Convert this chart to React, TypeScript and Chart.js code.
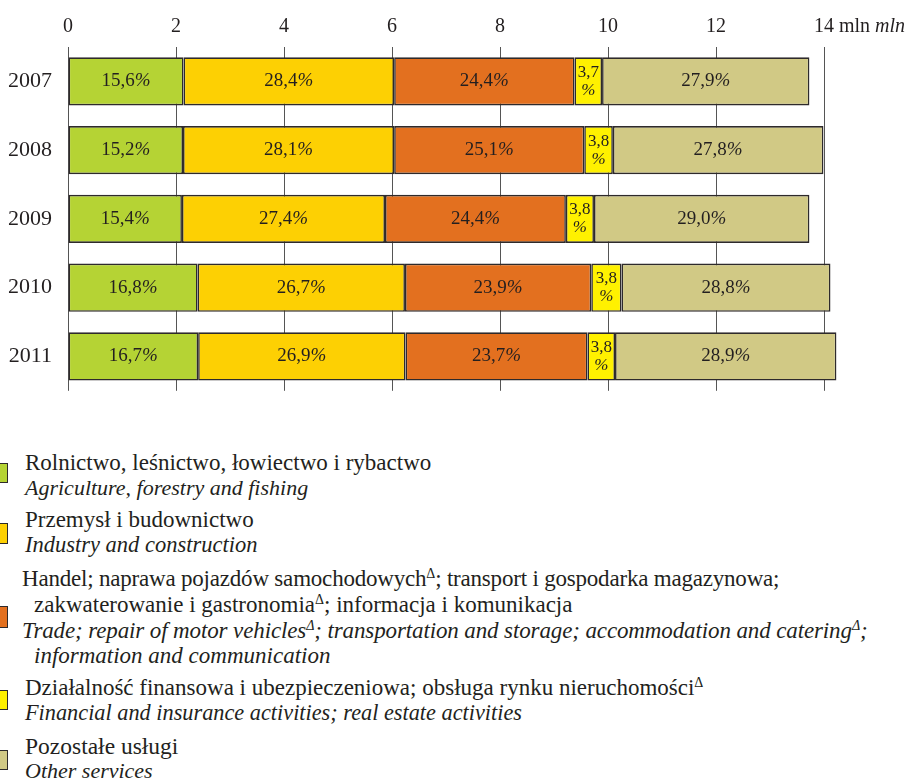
import React, { useEffect, useRef } from "react";
import { Chart, registerables } from "chart.js";

Chart.register(...registerables);

const years = ["2007", "2008", "2009", "2010", "2011"];
const agriculture = [2.14, 2.13, 2.11, 2.4, 2.41];
const industry = [3.9, 3.91, 3.76, 3.84, 3.84];
const trade = [3.34, 3.52, 3.35, 3.45, 3.37];
const finance = [0.51, 0.53, 0.52, 0.56, 0.51];
const other = [3.84, 3.9, 3.99, 3.87, 4.1];

const agriculturePct = ["15,6", "15,2", "15,4", "16,8", "16,7"];
const industryPct = ["28,4", "28,1", "27,4", "26,7", "26,9"];
const tradePct = ["24,4", "25,1", "24,4", "23,9", "23,7"];
const financePct = ["3,7", "3,8", "3,8", "3,8", "3,8"];
const otherPct = ["27,9", "27,8", "29,0", "28,8", "28,9"];

const xTicks = [0, 2, 4, 6, 8, 10, 12, 14];
const xMin = 0;
const xMax = 14.25;
const unitNormal = " mln";
const unitItalic = "mln";

const SERIF = "'Liberation Serif', 'Times New Roman', serif";
const TEXT = "#231f20";

const seriesColors = ["#b5d334", "#fdd003", "#e3701f", "#fff100", "#d1c985"];
const seriesNames = ["Rolnictwo", "Przemysł", "Handel", "Działalność finansowa", "Pozostałe usługi"];

const labelPlugin = {
  id: "segLabels",
  afterDatasetsDraw(chart: any) {
    const ctx = chart.ctx;
    const pcts = [agriculturePct, industryPct, tradePct, financePct, otherPct];
    ctx.save();
    ctx.fillStyle = TEXT;
    ctx.textBaseline = "middle";
    chart.data.datasets.forEach((_: any, i: number) => {
      const meta = chart.getDatasetMeta(i);
      meta.data.forEach((bar: any, j: number) => {
        const p = bar.getProps(["x", "y", "base"], true);
        const cx = (p.x + p.base) / 2;
        const cy = p.y;
        const num = pcts[i][j];
        if (i === 3) {
          ctx.font = `17px ${SERIF}`;
          ctx.textAlign = "center";
          ctx.fillText(num, cx, cy - 9);
          ctx.font = `italic 17px ${SERIF}`;
          ctx.fillText("%", cx, cy + 9);
        } else {
          ctx.font = `19px ${SERIF}`;
          const w1 = ctx.measureText(num).width;
          ctx.font = `italic 19px ${SERIF}`;
          const w2 = ctx.measureText("%").width;
          const start = cx - (w1 + w2) / 2;
          ctx.textAlign = "left";
          ctx.font = `19px ${SERIF}`;
          ctx.fillText(num, start, cy);
          ctx.font = `italic 19px ${SERIF}`;
          ctx.fillText("%", start + w1, cy);
        }
      });
    });
    ctx.restore();
  },
  afterDraw(chart: any) {
    const ctx = chart.ctx;
    const xs = chart.scales.x;
    const last = xTicks[xTicks.length - 1];
    const px = xs.getPixelForValue(last);
    const y = xs.bottom - 8 - 12;
    ctx.save();
    ctx.fillStyle = TEXT;
    ctx.textBaseline = "middle";
    ctx.textAlign = "left";
    ctx.font = `20px ${SERIF}`;
    const w14 = ctx.measureText(String(last)).width;
    const wU = ctx.measureText(unitNormal + " ").width;
    ctx.fillText(unitNormal, px + w14 / 2, y);
    ctx.font = `italic 20px ${SERIF}`;
    ctx.fillText(unitItalic, px + w14 / 2 + wU, y);
    ctx.restore();
  },
};

function ChartBox() {
  const ref = useRef<HTMLCanvasElement | null>(null);
  useEffect(() => {
    if (!ref.current) return;
    const data = [agriculture, industry, trade, finance, other];
    const chart = new Chart(ref.current, {
      type: "bar",
      data: {
        labels: years,
        datasets: data.map((d, i) => ({
          label: seriesNames[i],
          data: d,
          backgroundColor: seriesColors[i],
          borderColor: "#2e2a2b",
          borderWidth: 1.6,
          borderSkipped: false,
          categoryPercentage: 1,
          barPercentage: 0.7,
        })),
      },
      options: {
        indexAxis: "y",
        animation: false,
        responsive: false,
        devicePixelRatio: 1,
        layout: { padding: { left: 0, right: 79.5, top: 0, bottom: 24 } },
        plugins: { legend: { display: false }, tooltip: { enabled: false } },
        scales: {
          x: {
            type: "linear",
            position: "top",
            stacked: true,
            min: xMin,
            max: xMax,
            afterBuildTicks: (s: any) => {
              s.ticks = xTicks.map((v) => ({ value: v }));
            },
            ticks: {
              padding: 8,
              color: TEXT,
              font: { family: SERIF, size: 20 },
              callback: (v: any) => String(v),
            },
            grid: { color: "#555", lineWidth: 1, drawTicks: false },
            border: { display: false },
            afterFit: (s: any) => {
              s.height = 47;
            },
          },
          y: {
            stacked: true,
            ticks: {
              padding: 16,
              color: TEXT,
              font: { family: SERIF, size: 22 },
            },
            grid: { display: false, drawTicks: false },
            border: { display: false },
            afterFit: (s: any) => {
              s.width = 68;
            },
          },
        },
      },
      plugins: [labelPlugin],
    } as any);
    return () => chart.destroy();
  }, []);
  return <canvas ref={ref} width={917} height={420} style={{ display: "block", width: 917, height: 420 }} />;
}

const Sup = () => <sup style={{ fontSize: 14, verticalAlign: "0.55em", lineHeight: 0 }}>Δ</sup>;

type Line = { x: number; cy: number; size: number; spacing?: number; italic?: boolean; content: React.ReactNode };

const legendLines: Line[] = [
  { x: 25, cy: 463, size: 23, content: "Rolnictwo, leśnictwo, łowiectwo i rybactwo" },
  { x: 25, cy: 488, size: 22, italic: true, content: "Agriculture, forestry and fishing" },
  { x: 25, cy: 520, size: 23, content: "Przemysł i budownictwo" },
  { x: 25, cy: 545, size: 22.5, italic: true, content: "Industry and construction" },
  {
    x: 22,
    cy: 579,
    size: 23,
    spacing: -0.2,
    content: (
      <>
        Handel; naprawa pojazdów samochodowych<Sup />; transport i gospodarka magazynowa;
      </>
    ),
  },
  {
    x: 34,
    cy: 605,
    size: 23,
    content: (
      <>
        zakwaterowanie i gastronomia<Sup />; informacja i komunikacja
      </>
    ),
  },
  {
    x: 22,
    cy: 631,
    size: 23,
    spacing: -0.12,
    italic: true,
    content: (
      <>
        Trade; repair of motor vehicles<Sup />; transportation and storage; accommodation and catering<Sup />;
      </>
    ),
  },
  { x: 34, cy: 656, size: 23, italic: true, content: "information and communication" },
  {
    x: 25,
    cy: 688,
    size: 23,
    content: (
      <>
        Działalność finansowa i ubezpieczeniowa; obsługa rynku nieruchomości<Sup />
      </>
    ),
  },
  { x: 25, cy: 713, size: 22.3, italic: true, content: "Financial and insurance activities; real estate activities" },
  { x: 25, cy: 746, size: 23.5, content: "Pozostałe usługi" },
  { x: 25, cy: 771, size: 22, italic: true, content: "Other services" },
];

const legendBoxes = [
  { top: 463, h: 20, color: seriesColors[0] },
  { top: 523, h: 21, color: seriesColors[1] },
  { top: 606, h: 22, color: seriesColors[2] },
  { top: 690, h: 20, color: seriesColors[3] },
  { top: 750, h: 20, color: seriesColors[4] },
];

export default function App() {
  return (
    <div
      style={{
        position: "absolute",
        left: 0,
        top: 0,
        width: 917,
        height: 779,
        background: "#fff",
        overflow: "hidden",
        fontFamily: SERIF,
        color: TEXT,
      }}
    >
      <ChartBox />
      {legendBoxes.map((b, i) => (
        <div
          key={"b" + i}
          style={{
            position: "absolute",
            left: -5,
            top: b.top,
            width: 13,
            height: b.h,
            background: b.color,
            border: "1px solid #2e2a2b",
            boxSizing: "border-box",
          }}
        />
      ))}
      {legendLines.map((l, i) => (
        <div
          key={"l" + i}
          style={{
            position: "absolute",
            left: l.x,
            top: l.cy - 14,
            height: 28,
            lineHeight: "28px",
            fontSize: l.size,
            letterSpacing: l.spacing ? `${l.spacing}px` : "normal",
            fontStyle: l.italic ? "italic" : "normal",
            whiteSpace: "nowrap",
          }}
        >
          {l.content}
        </div>
      ))}
    </div>
  );
}
